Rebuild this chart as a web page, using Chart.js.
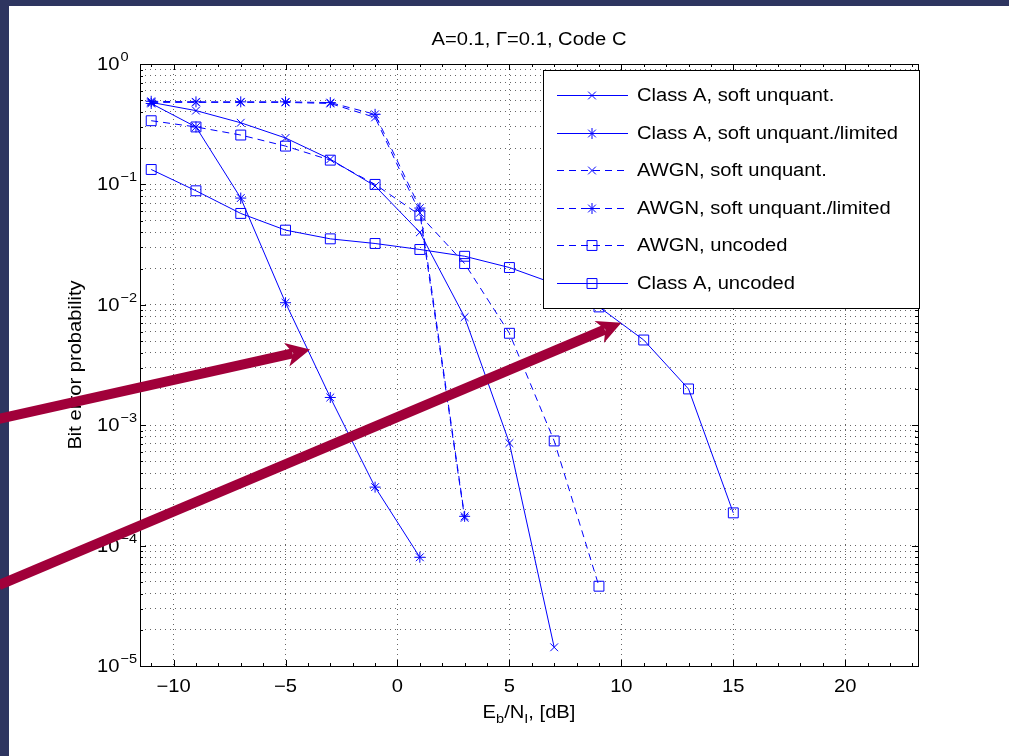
<!DOCTYPE html>
<html>
<head>
<meta charset="utf-8">
<script src="https://cdn.jsdelivr.net/npm/chart.js@4.4.1/dist/chart.umd.min.js"></script>
<style>
  html, body { margin: 0; padding: 0; background: #fff; }
  #wrap { width: 1009px; height: 756px; position: relative; }
</style>
</head>
<body>
<div id="wrap"><canvas id="chart"></canvas></div>
<script>
// Eb/NI values (dB) of each curve
const ebnoClassASoft = [-11, -9, -7, -5, -3, -1, 1, 3, 5, 7];
const ebnoClassALimited = [-11, -9, -7, -5, -3, -1, 1];
const ebnoAwgnSoft = [-11, -9, -7, -5, -3, -1, 1, 3];
const ebnoAwgnLimited = [-11, -9, -7, -5, -3, -1, 1, 3];
const ebnoAwgnUncoded = [-11, -9, -7, -5, -3, -1, 1, 3, 5, 7, 9];
const ebnoClassAUncoded = [-11, -9, -7, -5, -3, -1, 1, 3, 5, 7, 9, 11, 13, 15];

// bit error probabilities
const berClassASoft = [0.48, 0.41, 0.325, 0.243, 0.162, 0.097, 0.040, 0.0079, 7.1e-4, 1.43e-5];
const berClassALimited = [0.47, 0.30, 0.077, 0.0104, 0.0017, 3.06e-4, 8.0e-5];
const berAwgnSoft = [0.48, 0.48, 0.48, 0.48, 0.47, 0.36, 0.058, 1.7e-4];
const berAwgnLimited = [0.49, 0.485, 0.485, 0.485, 0.478, 0.382, 0.0636, 1.75e-4];
const berAwgnUncoded = [0.338, 0.30, 0.257, 0.208, 0.159, 0.10, 0.0556, 0.022, 0.0058, 7.4e-4, 4.6e-5];
const berClassAUncoded = [0.133, 0.0885, 0.0574, 0.0417, 0.0353, 0.0323, 0.0288, 0.0253, 0.0204, 0.0150, 0.0096, 0.0051, 0.0020, 1.87e-4];

// axes
const xTickValues = [-10, -5, 0, 5, 10, 15, 20];
const yDecades = [-5, -4, -3, -2, -1, 0];
const title = 'A=0.1, \u0393=0.1, Code C';
const yTitle = 'Bit error probability';

// the two red annotation arrows, in data units [Eb/NI, BER]
const arrowTails = [[-17.8, 1.13e-3], [-17.8, 4.7e-5]];
const arrowTips = [[-3.9, 4.25e-3], [10.0, 7.1e-3]];

const BLUE = '#0000ff';
const DASH = [7, 5];
const ARROW_COLOR = '#a1003a';
const FONT = '"Liberation Sans", Arial, Helvetica, sans-serif';
const SX = 1.12; // text in the original is a bit wider than Arial
const font = (size) => `${size}px ${FONT}`;

const yGridValues = [];
yDecades.forEach((k) => {
  if (k === 0) { yGridValues.push(1); return; }
  for (let m = 1; m <= 9; m++) yGridValues.push(m * Math.pow(10, k));
});

const series = (xs, ys) => xs.map((x, i) => ({ x, y: ys[i] }));

const datasets = [
  { label: 'Class A, soft unquant.', data: series(ebnoClassASoft, berClassASoft), pointStyle: 'crossRot', pointRadius: 5.5, borderDash: [] },
  { label: 'Class A, soft unquant./limited', data: series(ebnoClassALimited, berClassALimited), pointStyle: 'star', pointRadius: 5.5, borderDash: [] },
  { label: 'AWGN, soft unquant.', data: series(ebnoAwgnSoft, berAwgnSoft), pointStyle: 'crossRot', pointRadius: 5.5, borderDash: DASH },
  { label: 'AWGN, soft unquant./limited', data: series(ebnoAwgnLimited, berAwgnLimited), pointStyle: 'star', pointRadius: 5.5, borderDash: DASH },
  { label: 'AWGN, uncoded', data: series(ebnoAwgnUncoded, berAwgnUncoded), pointStyle: 'rect', pointRadius: 7, borderDash: DASH },
  { label: 'Class A, uncoded', data: series(ebnoClassAUncoded, berClassAUncoded), pointStyle: 'rect', pointRadius: 7, borderDash: [] },
].map((d) => ({
  ...d,
  borderColor: BLUE,
  borderWidth: 1,
  pointBorderColor: BLUE,
  pointBackgroundColor: 'rgba(0,0,0,0)',
  pointBorderWidth: 1,
  tension: 0,
  fill: false,
}));

function line(ctx, x0, y0, x1, y1) {
  ctx.beginPath();
  ctx.moveTo(x0, y0);
  ctx.lineTo(x1, y1);
  ctx.stroke();
}

function minusText(v) {
  return v < 0 ? '\u2212' + (-v) : String(v);
}

// widened text, like the original figure
function text(ctx, str, x, y, size, align, baseline, rot) {
  ctx.save();
  ctx.font = font(size);
  ctx.textAlign = align;
  ctx.textBaseline = baseline;
  ctx.translate(x, y);
  if (rot) ctx.rotate(rot);
  ctx.scale(SX, 1);
  ctx.fillText(str, 0, 0);
  ctx.restore();
}

function textWidth(ctx, str, size) {
  ctx.save();
  ctx.font = font(size);
  const w = ctx.measureText(str).width * SX;
  ctx.restore();
  return w;
}

function drawArrow(ctx, x0, y0, x1, y1) {
  const ang = Math.atan2(y1 - y0, x1 - x0);
  const headLen = 24;
  const headW = 12;
  ctx.save();
  ctx.strokeStyle = ARROW_COLOR;
  ctx.fillStyle = ARROW_COLOR;
  ctx.lineWidth = 10;
  ctx.beginPath();
  ctx.moveTo(x0, y0);
  ctx.lineTo(x1 - Math.cos(ang) * headLen * 0.75, y1 - Math.sin(ang) * headLen * 0.75);
  ctx.stroke();
  ctx.translate(x1, y1);
  ctx.rotate(ang);
  ctx.beginPath();
  ctx.moveTo(0, 0);
  ctx.lineTo(-headLen, -headW);
  ctx.lineTo(-headLen * 0.72, 0);
  ctx.lineTo(-headLen, headW);
  ctx.closePath();
  ctx.fill();
  ctx.restore();
}

const framePlugin = {
  id: 'frame',
  beforeDraw(chart) {
    const { ctx, width, height } = chart;
    ctx.save();
    ctx.fillStyle = '#fff';
    ctx.fillRect(0, 0, width, height);
    ctx.fillStyle = '#2e3560';
    ctx.fillRect(0, 0, width, 6);
    ctx.fillRect(0, 0, 9, height);
    ctx.restore();
  },
  afterDatasetsDraw(chart) {
    const { ctx } = chart;
    const { left, right, top, bottom } = chart.chartArea;
    const xs = chart.scales.x;
    const ys = chart.scales.y;
    ctx.save();

    // axes box with inward ticks
    ctx.strokeStyle = '#000';
    ctx.lineWidth = 1;
    ctx.strokeRect(Math.round(left) + 0.5, Math.round(top) + 0.5, Math.round(right - left), Math.round(bottom - top));
    for (let v = Math.ceil(xs.min); v <= xs.max; v++) {
      const px = Math.round(xs.getPixelForValue(v)) + 0.5;
      const len = v % 5 === 0 ? 6 : 3;
      line(ctx, px, bottom, px, bottom - len);
      line(ctx, px, top, px, top + len);
    }
    yGridValues.forEach((v) => {
      const py = Math.round(ys.getPixelForValue(v)) + 0.5;
      const decade = Math.abs(Math.log10(v) - Math.round(Math.log10(v))) < 1e-9;
      const len = decade ? 6 : 3;
      line(ctx, left, py, left + len, py);
      line(ctx, right, py, right - len, py);
    });

    // tick labels
    ctx.fillStyle = '#000';
    xTickValues.forEach((v) => {
      text(ctx, minusText(v), xs.getPixelForValue(v), bottom + 21, 18, 'center', 'middle');
    });
    yDecades.forEach((k) => {
      const py = ys.getPixelForValue(Math.pow(10, k));
      const x0 = left - 43;
      text(ctx, '10', x0, py + 1, 18, 'left', 'middle');
      const w = textWidth(ctx, '10', 18);
      text(ctx, minusText(k), x0 + w + 1, py - 3, 13, 'left', 'alphabetic');
    });

    // title
    text(ctx, title, (left + right) / 2, 40, 18, 'center', 'middle');

    // x label  E_b/N_I, [dB]
    const parts = [['E', 18, 0], ['b', 13, 5], ['/N', 18, 0], ['I', 13, 5], [', [dB]', 18, 0]];
    let total = 0;
    parts.forEach(([t, s]) => { total += textWidth(ctx, t, s); });
    let cx = (left + right) / 2 - total / 2;
    parts.forEach(([t, s, dy]) => {
      text(ctx, t, cx, 718 + dy, s, 'left', 'alphabetic');
      cx += textWidth(ctx, t, s);
    });

    // y label
    text(ctx, yTitle, 76, (top + bottom) / 2, 18, 'center', 'middle', -Math.PI / 2);

    // legend box inside the axes, upper right
    const lw = 376;
    const lh = 238;
    const lx = Math.round(right) - lw + 1;
    const ly = Math.round(top) + 6;
    ctx.fillStyle = '#fff';
    ctx.fillRect(lx, ly, lw, lh);
    ctx.strokeStyle = '#000';
    ctx.lineWidth = 1;
    ctx.strokeRect(lx + 0.5, ly + 0.5, lw, lh);
    chart.data.datasets.forEach((ds, i) => {
      const ey = Math.round(ly + 25 + i * 37.6) + 0.5;
      ctx.strokeStyle = BLUE;
      ctx.lineWidth = 1;
      ctx.setLineDash(ds.borderDash);
      line(ctx, lx + 14, ey, lx + 85, ey);
      ctx.setLineDash([]);
      ctx.fillStyle = 'rgba(0,0,0,0)';
      Chart.helpers.drawPoint(ctx, { pointStyle: ds.pointStyle, radius: ds.pointRadius, borderWidth: 1, rotation: 0 }, lx + 49, ey);
      ctx.fillStyle = '#000';
      text(ctx, ds.label, lx + 94, ey + 1, 18, 'left', 'middle');
    });
    ctx.restore();
  },
  afterDraw(chart) {
    const { ctx } = chart;
    const xs = chart.scales.x;
    const ys = chart.scales.y;
    arrowTips.forEach((tip, i) => {
      const tail = arrowTails[i];
      drawArrow(ctx,
        xs.getPixelForValue(tail[0]), ys.getPixelForValue(tail[1]),
        xs.getPixelForValue(tip[0]), ys.getPixelForValue(tip[1]));
    });
  },
};

new Chart(document.getElementById('chart'), {
  type: 'line',
  data: { datasets },
  options: {
    responsive: true,
    maintainAspectRatio: false,
    animation: false,
    layout: { padding: { left: 0, top: 64, right: 91, bottom: 0 } },
    plugins: {
      legend: { display: false },
      title: { display: false },
      tooltip: { enabled: false },
    },
    scales: {
      x: {
        type: 'linear',
        min: -11.5,
        max: 23.25,
        afterBuildTicks: (scale) => { scale.ticks = xTickValues.map((value) => ({ value })); },
        afterFit: (scale) => { scale.height = 90; },
        ticks: { display: false },
        grid: { color: 'rgba(0,0,0,0.6)', lineWidth: 1, drawTicks: false },
        border: { display: false, dash: [1, 4] },
      },
      y: {
        type: 'logarithmic',
        min: 1e-5,
        max: 1,
        afterBuildTicks: (scale) => { scale.ticks = yGridValues.map((value) => ({ value })); },
        afterFit: (scale) => { scale.width = 140; },
        ticks: { display: false },
        grid: { color: 'rgba(0,0,0,0.6)', lineWidth: 1, drawTicks: false },
        border: { display: false, dash: [1, 4] },
      },
    },
  },
  plugins: [framePlugin],
});
</script>
</body>
</html>
